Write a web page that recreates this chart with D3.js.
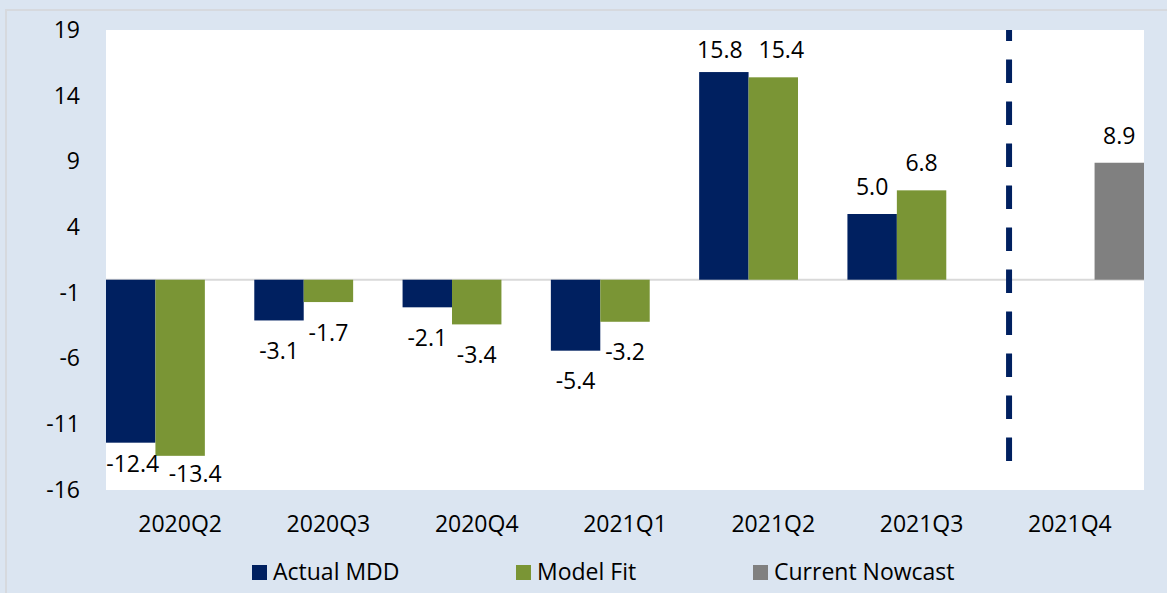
<!DOCTYPE html>
<html>
<head>
<meta charset="utf-8">
<script src="https://cdn.jsdelivr.net/npm/d3@7"></script>
<style>
  html, body { margin: 0; padding: 0; background: #dbe5f1; }
  svg { display: block; }
  text { font-family: "Open Sans", "Noto Sans", sans-serif; fill: #000; }
</style>
</head>
<body>
<svg id="chart" width="1167" height="593"></svg>
<script>
// ---- data ----
const categories = ["2020Q2", "2020Q3", "2020Q4", "2021Q1", "2021Q2", "2021Q3", "2021Q4"];
const seriesNames = ["Actual MDD", "Model Fit", "Current Nowcast"];
const actualMDD = [-12.4, -3.1, -2.1, -5.4, 15.8, 5.0, null];
const modelFit = [-13.4, -1.7, -3.4, -3.2, 15.4, 6.8, null];
const currentNowcast = [null, null, null, null, null, null, 8.9];
const yTicks = [-16, -11, -6, -1, 4, 9, 14, 19];
const dividerRange = [-13.8, 19];

// ---- styles / layout ----
const colors = ["#002060", "#7a9535", "#808080"];
const W = 1167, H = 593;
const plot = { left: 106, right: 1144, top: 30, bottom: 490 };
const fontSize = 23;
const locale = d3.formatLocale({ decimal: ".", thousands: ",", grouping: [3], currency: ["$", ""], minus: "-" });
const fmt1 = locale.format(".1f");
const fmt0 = locale.format("d");

const svg = d3.select("#chart");

// background + outer border
svg.append("rect").attr("x", 0).attr("y", 0).attr("width", W).attr("height", H).attr("fill", "#dbe5f1");
svg.append("rect").attr("x", 6).attr("y", 10).attr("width", W + 20).attr("height", H + 20)
  .attr("fill", "none").attr("stroke", "#d6d9de").attr("stroke-width", 2);

// plot area
svg.append("rect").attr("x", plot.left).attr("y", plot.top)
  .attr("width", plot.right - plot.left).attr("height", plot.bottom - plot.top).attr("fill", "#ffffff");

const x = d3.scaleBand().domain(categories).range([plot.left, plot.right]).paddingInner(0).paddingOuter(0);
const xs = d3.scaleBand().domain(d3.range(seriesNames.length)).range([0, x.bandwidth()]).padding(0);
const y = d3.scaleLinear().domain([yTicks[0], yTicks[yTicks.length - 1]]).range([plot.bottom, plot.top]);

// zero line
svg.append("line").attr("x1", plot.left).attr("x2", plot.right)
  .attr("y1", y(0)).attr("y2", y(0)).attr("stroke", "#d9d9d9").attr("stroke-width", 2);

const allSeries = [actualMDD, modelFit, currentNowcast];
const records = [];
allSeries.forEach((vals, si) => {
  vals.forEach((v, ci) => {
    if (v !== null) records.push({ si, ci, cat: categories[ci], v });
  });
});

// bars
svg.append("g").selectAll("rect").data(records).join("rect")
  .attr("x", d => x(d.cat) + xs(d.si))
  .attr("width", xs.bandwidth())
  .attr("y", d => Math.min(y(d.v), y(0)))
  .attr("height", d => Math.abs(y(d.v) - y(0)))
  .attr("fill", d => colors[d.si]);

// data labels (outside end, with Excel-like collision nudges)
const nudges = { "0-0": [2, -9], "1-0": [15, -12], "0-4": [-4, 4.6], "1-4": [8, 0] };
svg.append("g").selectAll("text").data(records).join("text")
  .attr("x", d => x(d.cat) + xs(d.si) + xs.bandwidth() / 2 + ((nudges[d.si + "-" + d.ci] || [0, 0])[0]))
  .attr("y", d => (d.v >= 0 ? y(d.v) - 19 : y(d.v) + 38.5) + ((nudges[d.si + "-" + d.ci] || [0, 0])[1]))
  .attr("text-anchor", "middle")
  .attr("font-size", fontSize)
  .text(d => fmt1(d.v));

// divider dashed line
const dividerX = x("2021Q4") + x.bandwidth() * 0.09;
svg.append("line")
  .attr("x1", dividerX).attr("x2", dividerX)
  .attr("y1", y(dividerRange[0])).attr("y2", y(dividerRange[1]))
  .attr("stroke", "#002060").attr("stroke-width", 6)
  .attr("stroke-dasharray", "23.7 18.3");

// y axis
const yAxis = d3.axisLeft(y).tickValues(yTicks).tickSize(0).tickPadding(0).tickFormat(fmt0);
const yg = svg.append("g").attr("transform", `translate(80,0)`).call(yAxis);
yg.select(".domain").remove();
yg.selectAll("text").attr("font-size", fontSize).attr("fill", "#000")
  .attr("font-family", '"Open Sans", sans-serif');

// x axis
const xAxis = d3.axisBottom(x).tickSize(0).tickPadding(0);
const xg = svg.append("g").attr("transform", `translate(0,${plot.bottom})`).call(xAxis);
xg.select(".domain").remove();
xg.selectAll("text").attr("font-size", fontSize).attr("fill", "#000")
  .attr("font-family", '"Open Sans", sans-serif')
  .attr("dy", null).attr("y", 42);

// legend
const legendX = [252, 516, 753];
const lg = svg.append("g").selectAll("g").data(seriesNames).join("g")
  .attr("transform", (d, i) => `translate(${legendX[i]},565)`);
lg.append("rect").attr("width", 15).attr("height", 15).attr("fill", (d, i) => colors[i]);
lg.append("text").attr("x", 21).attr("y", 15).attr("font-size", fontSize).text(d => d);
</script>
</body>
</html>
